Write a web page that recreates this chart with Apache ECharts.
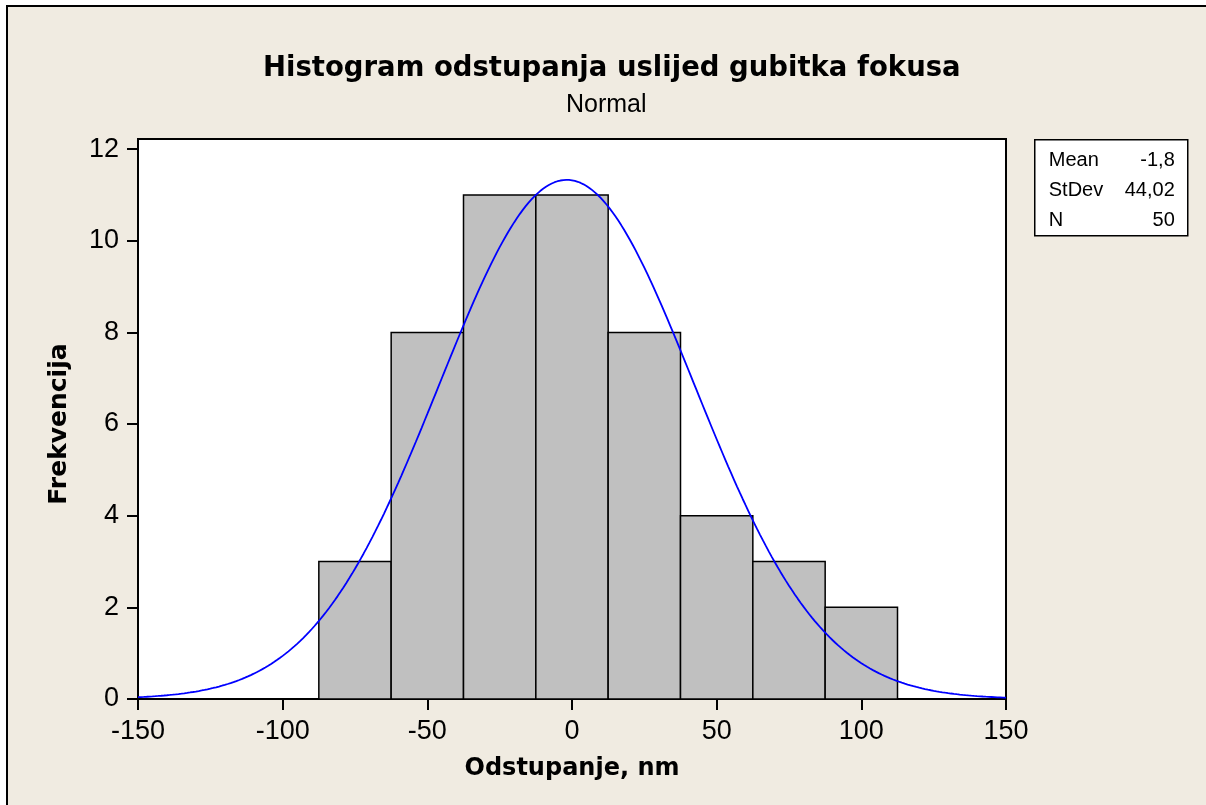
<!DOCTYPE html>
<html>
<head>
<meta charset="utf-8">
<script src="https://cdn.jsdelivr.net/npm/echarts@6/dist/echarts.min.js"></script>
<style>
  html, body { margin: 0; padding: 0; background: #ffffff; overflow: hidden; }
  #frame { position: absolute; left: 6px; top: 5px; width: 1300px; height: 900px;
           border: 2px solid #000; background: #F0EBE1; }
  #chart { position: absolute; left: 0; top: 0; width: 1206px; height: 805px; }
</style>
</head>
<body>
<div id="frame"></div>
<div id="chart"></div>
<script>
// Histogram bins (lower edges) and frequencies
const binStarts = [-87.5, -62.5, -37.5, -12.5, 12.5, 37.5, 62.5, 87.5];
const binWidth = 25;
const counts = [3, 8, 11, 11, 8, 4, 3, 2];

// Fitted normal distribution parameters
const mean = -1.8;
const stdev = 44.02;
const n = 50;

// Axis ticks
const xTicks = [-150, -100, -50, 0, 50, 100, 150];
const yTicks = [0, 2, 4, 6, 8, 10, 12];

const sansFont = '"Liberation Sans", Arial, sans-serif';
const boldFont = '"DejaVu Sans", Verdana, sans-serif';

// Normal density scaled to frequency (N * bin width * pdf)
const curve = [];
for (let x = -150; x <= 150; x += 1) {
  const z = (x - mean) / stdev;
  const y = n * binWidth * Math.exp(-0.5 * z * z) / (stdev * Math.sqrt(2 * Math.PI));
  curve.push([x, y]);
}

const bars = binStarts.map((s, i) => [s, s + binWidth, counts[i]]);

const fmt = v => String(v).replace('.', ',');

const chart = echarts.init(document.getElementById('chart'));
chart.setOption({
  backgroundColor: 'transparent',
  animation: false,
  title: [
    {
      text: 'Histogram odstupanja uslijed gubitka fokusa',
      left: 258,
      top: 50,
      textStyle: { fontFamily: boldFont, fontSize: 27.5, fontWeight: 'bold', color: '#000' }
    },
    {
      text: 'Normal',
      left: 561,
      top: 88,
      textStyle: { fontFamily: sansFont, fontSize: 25, fontWeight: 'normal', color: '#000' }
    }
  ],
  grid: {
    left: 138, right: 200, top: 139, bottom: 106,
    show: true, backgroundColor: '#ffffff', borderColor: '#000', borderWidth: 2
  },
  xAxis: {
    type: 'value',
    min: -150, max: 150, interval: 50,
    name: 'Odstupanje, nm',
    nameLocation: 'middle',
    nameGap: 58,
    nameTextStyle: { fontFamily: boldFont, fontSize: 24, fontWeight: 'bold', color: '#000' },
    axisLine: { show: true, onZero: false, lineStyle: { color: '#000', width: 2 } },
    axisTick: { show: true, length: 11, lineStyle: { color: '#000', width: 2 }, customValues: xTicks },
    axisLabel: { fontFamily: sansFont, fontSize: 27, color: '#000', margin: 19, customValues: xTicks },
    splitLine: { show: false }
  },
  yAxis: {
    type: 'value',
    min: 0, max: 12.22,
    axisLine: { show: true, onZero: false, lineStyle: { color: '#000', width: 2 } },
    axisTick: { show: true, length: 11, lineStyle: { color: '#000', width: 2 }, customValues: yTicks },
    axisLabel: { fontFamily: sansFont, fontSize: 27, color: '#000', margin: 19, customValues: yTicks },
    splitLine: { show: false }
  },
  series: [
    {
      type: 'custom',
      data: bars,
      encode: { x: [0, 1], y: 2 },
      renderItem: function (params, api) {
        const p0 = api.coord([api.value(0), 0]);
        const p1 = api.coord([api.value(1), api.value(2)]);
        return {
          type: 'rect',
          shape: { x: p0[0], y: p1[1], width: p1[0] - p0[0], height: p0[1] - p1[1] },
          style: { fill: '#C0C0C0', stroke: '#000', lineWidth: 1.5 }
        };
      },
      z: 2
    },
    {
      type: 'line',
      data: curve,
      showSymbol: false,
      smooth: false,
      lineStyle: { color: '#0000FF', width: 1.8 },
      z: 3
    }
  ],
  graphic: [
    // Y axis title, centred on the labelled tick range
    {
      type: 'text',
      x: 59, y: 424,
      rotation: Math.PI / 2,
      style: {
        text: 'Frekvencija',
        font: 'bold 25px ' + boldFont,
        fill: '#000',
        align: 'center',
        verticalAlign: 'middle'
      }
    },
    // Summary statistics box
    {
      type: 'group',
      left: 1034, top: 139,
      children: [
        { type: 'rect', shape: { x: 0, y: 0, width: 153, height: 96 },
          style: { fill: '#ffffff', stroke: '#000', lineWidth: 1.5 } },
        { type: 'text', x: 14, y: 11, style: { text: 'Mean', font: '20px ' + sansFont, fill: '#000' } },
        { type: 'text', x: 14, y: 41, style: { text: 'StDev', font: '20px ' + sansFont, fill: '#000' } },
        { type: 'text', x: 14, y: 71, style: { text: 'N', font: '20px ' + sansFont, fill: '#000' } },
        { type: 'text', x: 140, y: 11, style: { text: fmt(mean), font: '20px ' + sansFont, fill: '#000', align: 'right' } },
        { type: 'text', x: 140, y: 41, style: { text: fmt(stdev), font: '20px ' + sansFont, fill: '#000', align: 'right' } },
        { type: 'text', x: 140, y: 71, style: { text: fmt(n), font: '20px ' + sansFont, fill: '#000', align: 'right' } }
      ]
    }
  ]
});
</script>
</body>
</html>
